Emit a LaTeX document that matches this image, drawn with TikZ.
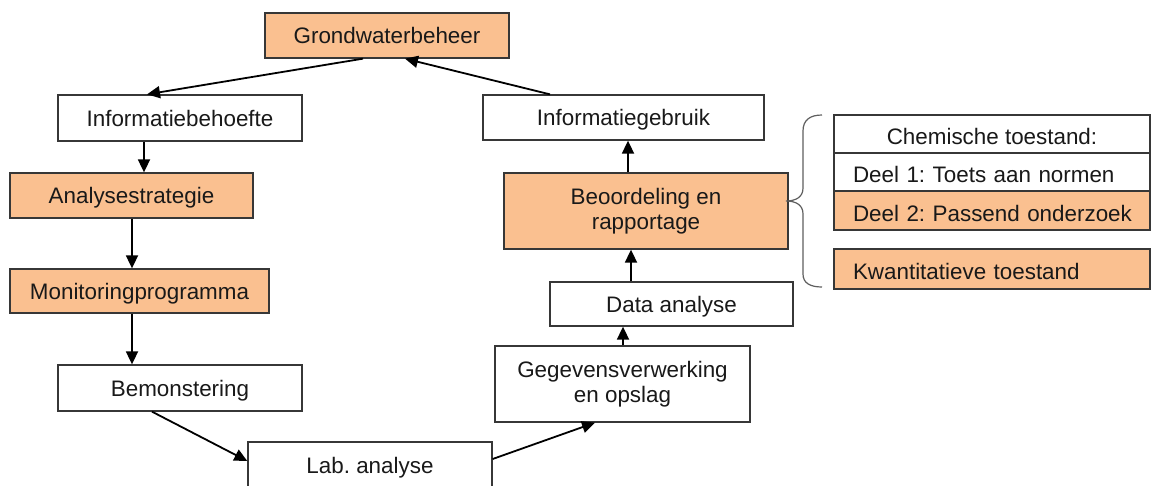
\documentclass[tikz,border=0pt]{standalone}
\usepackage{fontspec}
\setmainfont{Liberation Sans}
\usetikzlibrary{arrows.meta}
\definecolor{orangefill}{RGB}{250,192,144}
\definecolor{edge}{RGB}{55,55,55}
\definecolor{ink}{RGB}{25,25,25}
\definecolor{bracegray}{RGB}{95,95,95}
\frenchspacing
\hyphenpenalty=10000
\exhyphenpenalty=10000
\begin{document}
\begin{tikzpicture}[x=1pt,y=-1pt,
  base/.style={draw=edge, line width=1.3pt, rectangle, inner sep=0pt,
    font=\fontsize{22.4}{25}\selectfont, text=ink, minimum height=45pt},
  one/.style={base, text height=16pt, text depth=0pt},
  two/.style={base, align=center},
  rbox/.style={base, text height=21pt, text depth=0pt, minimum width=316pt},
  lbox/.style={rbox, text width=278pt, align=left},
  white/.style={fill=white},
  orange/.style={fill=orangefill},
  arr/.style={draw=black, line width=1.8pt, -{Triangle[length=13pt,width=12pt]}},
  bracepath/.style={draw=bracegray, line width=1.2pt}
]
\useasboundingbox (0,0) rectangle (1151,485);
\fill[white] (0,0) rectangle (1151,485);

% left column
\node[one, orange, minimum width=244pt] (gw) at (387,35.5) {Grondwaterbeheer};
\node[one, white, minimum width=244pt, minimum height=46pt] (ib) at (180,118) {Informatiebehoefte};
\node[one, orange, minimum width=243pt] (as) at (131.5,195.5) {Analysestrategie};
\node[one, orange, minimum width=259pt, minimum height=44pt] (mp) at (139.5,291) {Monitoringprogramma};
\node[one, white, minimum width=244pt, minimum height=46pt] (bm) at (180,388) {Bemonstering};
\node[one, white, minimum width=244pt, minimum height=46pt] (lab) at (370,465) {Lab. analyse};

% right column
\node[two, white, minimum width=255pt, minimum height=76pt] (gv) at (622.5,384) {Gegevensverwerking\\en opslag};
\node[one, white, minimum width=243pt, minimum height=44pt] (da) at (671.5,304) {Data analyse};
\node[two, orange, minimum width=284pt, minimum height=76pt] (br) at (646,211) {Beoordeling en\\rapportage};
\node[one, white, minimum width=281pt] (ig) at (623.5,117.5) {Informatiegebruik};

% assessment boxes
\node[rbox, white, minimum height=38pt] (ch) at (992,134) {Chemische toestand:};
\node[lbox, white, minimum height=38pt] (d1) at (992,172) {\mbox{Deel 1: Toets aan normen}};
\node[lbox, orange, minimum height=39pt] (d2) at (992,210.5) {\mbox{Deel 2: Passend onderzoek}};
\node[lbox, orange, minimum height=40pt] (kw) at (992,269) {\mbox{Kwantitatieve toestand}};

% brace
\draw[bracepath] (822,115) .. controls (810,115) and (803,120) .. (803,131)
  -- (803,188) .. controls (803,197) and (796,201) .. (786,201)
  .. controls (796,201) and (803,205) .. (803,214)
  -- (803,274) .. controls (803,283) and (810,287) .. (822,287);

% connectors
\draw[arr] ([xshift=-24pt]gw.south) -- ([xshift=-33pt]ib.north);
\draw[arr] ([xshift=-36pt]ib.south) -- ([xshift=12.5pt]as.north);
\draw[arr] ([xshift=0.5pt]as.south) -- ([xshift=-7.5pt]mp.north);
\draw[arr] ([xshift=-7.5pt]mp.south) -- ([xshift=-48pt]bm.north);
\draw[arr] ([xshift=-28pt]bm.south) -- ([yshift=4pt]lab.west);
\draw[arr] ([yshift=6pt]lab.east) -- ([xshift=-27.5pt]gv.south);
\draw[arr] ([xshift=0.5pt]gv.north) -- ([xshift=-48.5pt]da.south);
\draw[arr] ([xshift=-40.5pt]da.north) -- ([xshift=-15pt]br.south);
\draw[arr] ([xshift=-18pt]br.north) -- ([xshift=4.5pt]ig.south);
\draw[arr] ([xshift=-73.5pt]ig.north) -- ([xshift=18pt]gw.south);
\end{tikzpicture}
\end{document}
